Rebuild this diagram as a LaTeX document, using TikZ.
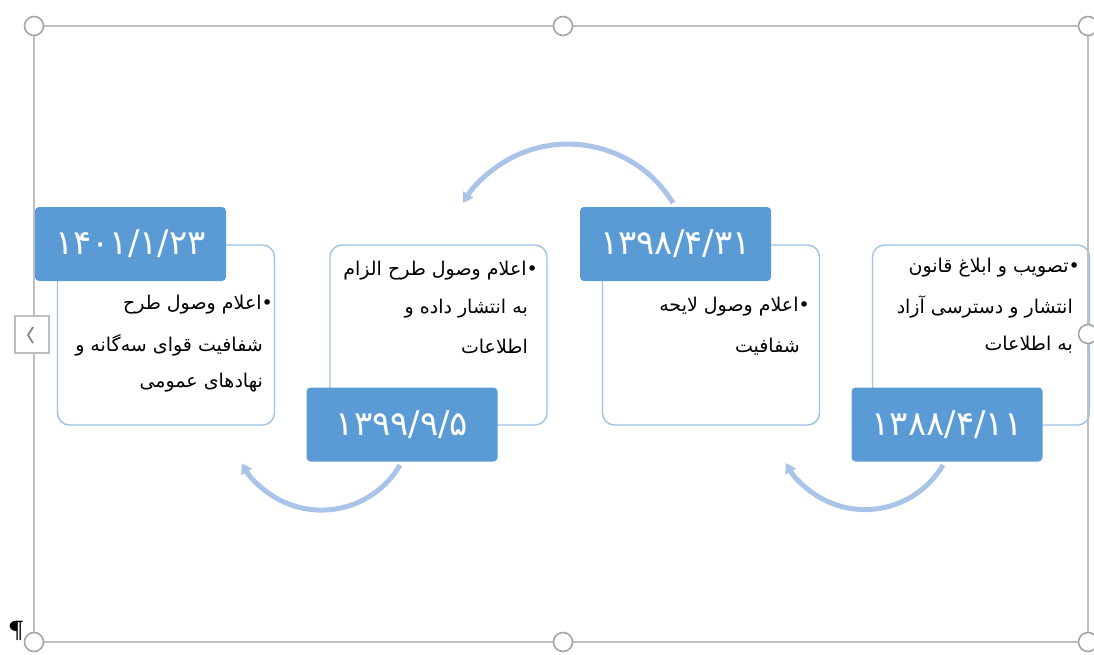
\documentclass[tikz,border=0pt]{standalone}
\usepackage{fontspec}
\TeXXeTstate=1
\newfontfamily\fa[Script=Arabic]{DejaVu Sans}
\usetikzlibrary{arrows.meta,calc}
\definecolor{lblue}{HTML}{5B9BD5}
\definecolor{bord}{HTML}{9DC3E6}
\definecolor{arcc}{HTML}{A9C4E8}
\definecolor{frm}{HTML}{BFBFBF}
\definecolor{hnd}{HTML}{A6A6A6}
\begin{document}
\begin{tikzpicture}[x=1pt,y=-1pt,
  card/.style={draw=bord,line width=1.4pt,fill=white,rounded corners=12pt,
    minimum width=217pt,minimum height=180pt,inner sep=0pt},
  datebox/.style={fill=lblue,rounded corners=4pt,draw=none,text=white,
    minimum width=191pt,minimum height=74pt,inner sep=0pt,
    font=\fa\fontsize{34}{34}\selectfont},
  line/.style={anchor=east,inner sep=0pt,font=\fa\fontsize{19}{22}\selectfont,text=black},
  flow/.style={draw=arcc,line width=5pt,-{Triangle[length=10pt,width=12pt]}},
  handle/.style={circle,draw=hnd,fill=white,line width=1.6pt,minimum size=19pt,inner sep=0pt},
]
\useasboundingbox (0,0) rectangle (1094,655);
% arcs
\coordinate (a3s) at (673,203);
\coordinate (a2s) at (400,465);
\coordinate (a4s) at (943,465);
\draw[flow] (a3s) arc[start angle=31.4, end angle=148.6, radius=123pt];
\draw[flow] (a2s) arc[start angle=-30.3, end angle=-151, radius=91pt];
\draw[flow] (a4s) arc[start angle=-30.5, end angle=-151, radius=90.5pt];
% cards
\node[card] (b1) at (166,335) {};
\node[card] (b2) at (438.5,335) {};
\node[card] (b3) at (711,335) {};
\node[card] (b4) at (981,335) {};
% dates
\node[datebox] (d1) at (130.5,244) {۱۴۰۱/۱/۲۳};
\node[datebox] (d2) at (402,424.5) {۱۳۹۹/۹/۵};
\node[datebox] (d3) at (675.5,244) {۱۳۹۸/۴/۳۱};
\node[datebox] (d4) at (947,424.5) {۱۳۸۸/۴/۱۱};
% texts
\node[line] (t1a) at (273,305) {\beginR •اعلام وصول طرح\endR};
\node[line] (t1b) at (263,345) {\beginR شفافیت قوای سه‌گانه و\endR};
\node[line] (t1c) at (263,383) {\beginR نهادهای عمومی\endR};
\node[line] (t2a) at (538,271) {\beginR •اعلام وصول طرح الزام\endR};
\node[line] (t2b) at (528,309) {\beginR به انتشار داده و\endR};
\node[line] (t2c) at (528,346) {\beginR اطلاعات\endR};
\node[line] (t3a) at (810,307) {\beginR •اعلام وصول لایحه\endR};
\node[line] (t3b) at (800,347) {\beginR شفافیت\endR};
\node[line] (t4a) at (1080,268) {\beginR •تصویب و ابلاغ قانون\endR};
\node[line] (t4b) at (1073,307) {\beginR انتشار و دسترسی آزاد\endR};
\node[line] (t4c) at (1073,345) {\beginR به اطلاعات\endR};
% selection frame
\draw[frm,line width=1.5pt] (34,26) rectangle (1088,642);
\node[draw=frm,fill=white,line width=1.2pt,minimum width=34pt,minimum height=37pt,inner sep=0pt] (tab) at (32,334.5) {};
\coordinate (cv) at (28,335);
\draw[hnd!80!black,line width=1.8pt] ($(cv)+(5,-8)$) -- (cv) -- ($(cv)+(5,8)$);
\foreach \n/\p in {h1/{(34,26)},h2/{(563,26)},h3/{(1088,26)},h4/{(34,642)},h5/{(563,642)},h6/{(1088,642)},h7/{(1088,334)}}
  \node[handle] (\n) at \p {};
\node[font=\bfseries\fontsize{22}{22}\selectfont,inner sep=0pt] (pil) at (16,631) {\P};
\end{tikzpicture}
\end{document}
